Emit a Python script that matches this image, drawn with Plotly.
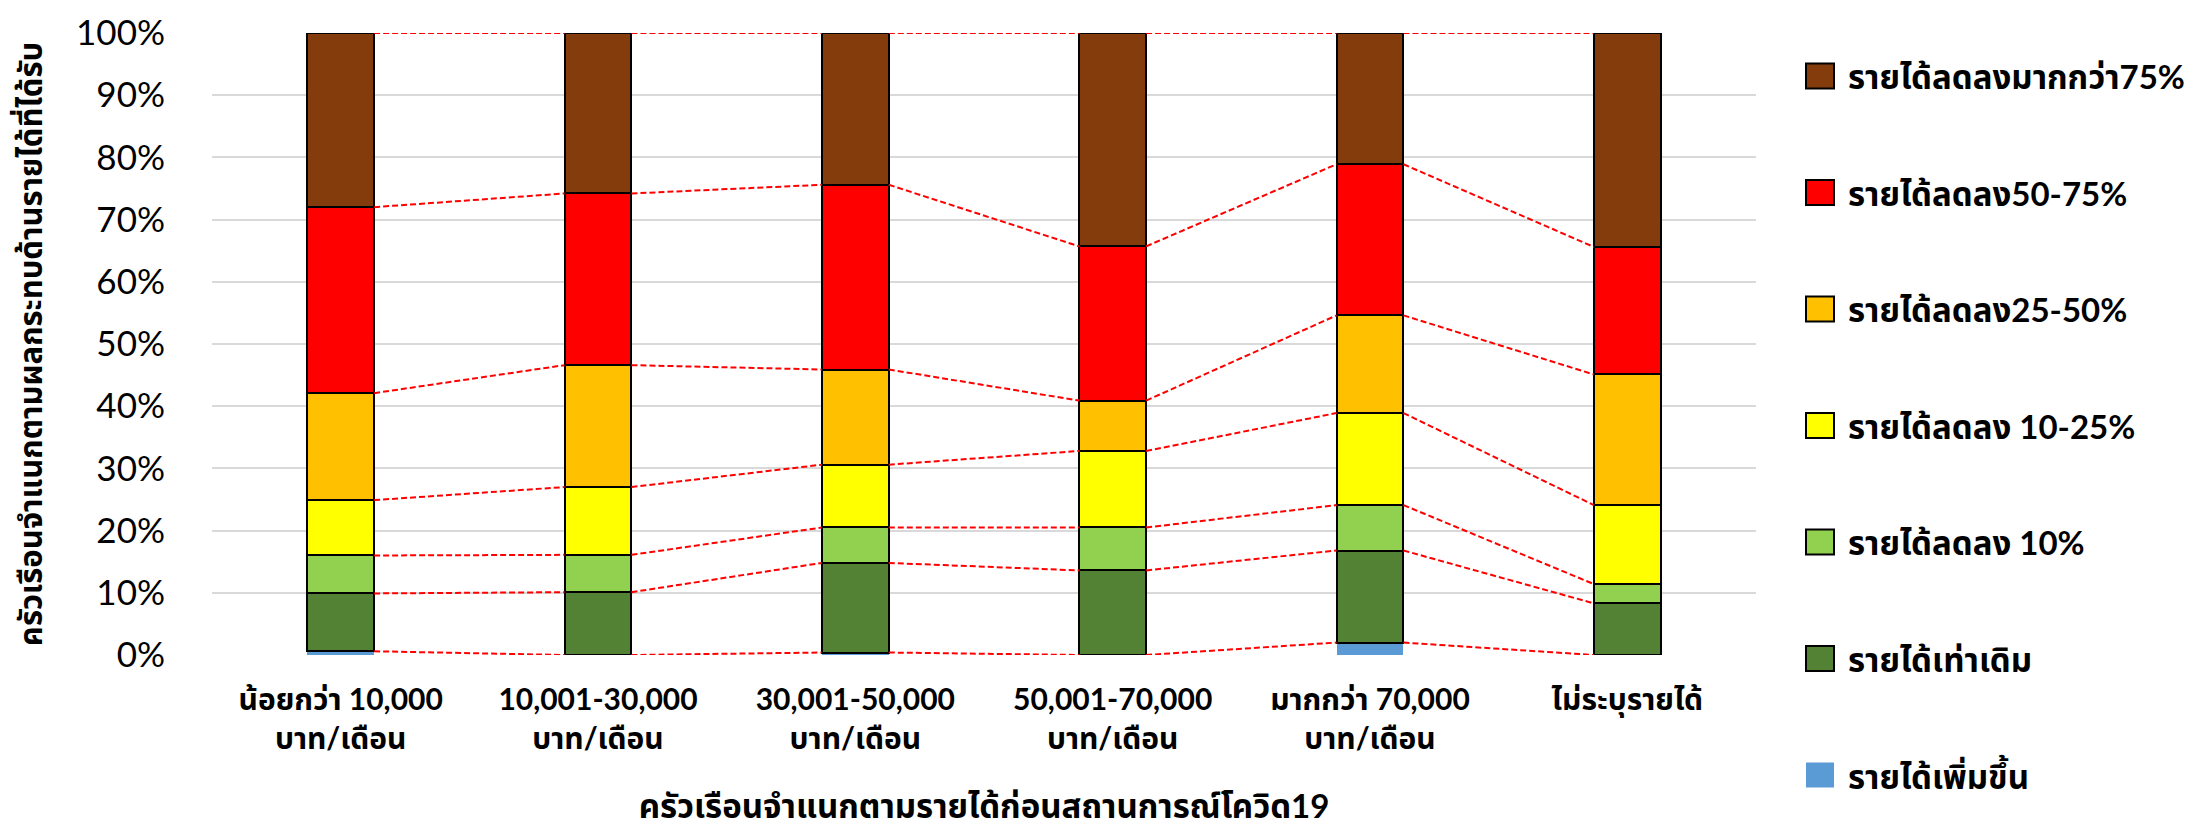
import plotly.graph_objects as go

categories = ["น้อยกว่า 10,000<br>บาท/เดือน", "10,001-30,000<br>บาท/เดือน", "30,001-50,000<br>บาท/เดือน",
              "50,001-70,000<br>บาท/เดือน", "มากกว่า 70,000<br>บาท/เดือน", "ไม่ระบุรายได้"]

series_names = ["รายได้เพิ่มขึ้น", "รายได้เท่าเดิม", "รายได้ลดลง 10%", "รายได้ลดลง 10-25%",
                "รายได้ลดลง25-50%", "รายได้ลดลง50-75%", "รายได้ลดลงมากกว่า75%"]

increase = [0.6, 0.0, 0.4, 0.0, 2.0, 0.0]
same = [9.3, 10.1, 14.4, 13.6, 14.8, 8.3]
down_10 = [6.1, 6.0, 5.7, 6.9, 7.3, 3.1]
down_10_25 = [8.9, 10.9, 10.1, 12.3, 14.8, 12.7]
down_25_50 = [17.2, 19.6, 15.3, 8.1, 15.7, 21.0]
down_50_75 = [29.9, 27.6, 29.7, 24.8, 24.3, 20.5]
down_75 = [28.0, 25.8, 24.4, 34.3, 21.1, 34.4]

series_values = [increase, same, down_10, down_10_25, down_25_50, down_50_75, down_75]
colors = ["#5b9bd5", "#548235", "#92d050", "#ffff00", "#ffc000", "#ff0000", "#843c0c"]

tick_labels = ["0%", "10%", "20%", "30%", "40%", "50%", "60%", "70%", "80%", "90%", "100%"]

FONT = "Lato, 'Noto Sans Thai', 'Noto Sans', sans-serif"
BAR_W = 0.26
xs = list(range(len(categories)))

fig = go.Figure()

for i, (name, vals, col) in enumerate(zip(series_names, series_values, colors)):
    fig.add_trace(go.Bar(
        x=xs, y=vals, name=name, width=BAR_W, showlegend=False,
        marker=dict(color=col, line=dict(color="black", width=0 if i == 0 else 2)),
    ))

# dashed connector lines between cumulative boundaries
cum = [0.0] * len(categories)
for vals in series_values:
    cum = [c + v for c, v in zip(cum, vals)]
    lx, ly = [], []
    for j in range(len(categories) - 1):
        lx += [xs[j] + BAR_W / 2, xs[j + 1] - BAR_W / 2, None]
        ly += [cum[j], cum[j + 1], None]
    fig.add_trace(go.Scatter(x=lx, y=ly, mode="lines", showlegend=False, hoverinfo="skip",
                             line=dict(color="#ff0000", width=2, dash="6px,3px")))

# legend (drawn in paper coordinates, top = highest series)
PLOT_L, PLOT_R, PLOT_T, PLOT_B = 204, 1748, 25, 647
W, H = 2210, 829
def px_x(px):
    return (px - PLOT_L) / (PLOT_R - PLOT_L)
def px_y(py):
    return (PLOT_B - py) / (PLOT_B - PLOT_T)

legend_top = 68
legend_step = 116.5
shapes, annots = [], []
for k, idx in enumerate(reversed(range(len(series_names)))):
    cy = legend_top + k * legend_step
    shapes.append(dict(type="rect", xref="paper", yref="paper",
                       x0=px_x(1798), x1=px_x(1826), y0=px_y(cy + 12.5), y1=px_y(cy - 12.5),
                       fillcolor=colors[idx],
                       line=dict(color="black", width=0 if idx == 0 else 2)))
    annots.append(dict(xref="paper", yref="paper", x=px_x(1838), y=px_y(cy), xanchor="left", yanchor="middle",
                       text="<b>" + series_names[idx] + "</b>", showarrow=False,
                       font=dict(size=33, family=FONT, color="black")))

fig.update_layout(
    width=W, height=H,
    barmode="stack",
    plot_bgcolor="white", paper_bgcolor="white",
    margin=dict(l=PLOT_L, r=W - PLOT_R, t=PLOT_T, b=H - PLOT_B),
    font=dict(family=FONT, color="black", size=30),
    showlegend=False,
    shapes=shapes, annotations=annots,
)

fig.update_xaxes(
    range=[-0.5, 5.5], tickmode="array", tickvals=xs,
    ticktext=["<b>" + c.replace("<br>", "</b><br><b>") + "</b>" for c in categories],
    showgrid=False, zeroline=False, showline=False, automargin=False,
    tickfont=dict(size=30, family=FONT), ticklabelstandoff=24,
    title=dict(text="<b>ครัวเรือนจำแนกตามรายได้ก่อนสถานการณ์โควิด19</b>", font=dict(size=33, family=FONT), standoff=40),
)
fig.update_yaxes(
    range=[0, 100], tickmode="array", tickvals=list(range(0, 101, 10)), ticktext=tick_labels,
    showgrid=True, gridcolor="#d9d9d9", gridwidth=2, zeroline=False, showline=False, automargin=False,
    tickfont=dict(size=35, family=FONT), ticklabelstandoff=46,
    title=dict(text="<b>ครัวเรือนจำแนกตามผลกระทบด้านรายได้ที่ได้รับ</b>", font=dict(size=31, family=FONT), standoff=24),
)

fig.write_html("out.html")
